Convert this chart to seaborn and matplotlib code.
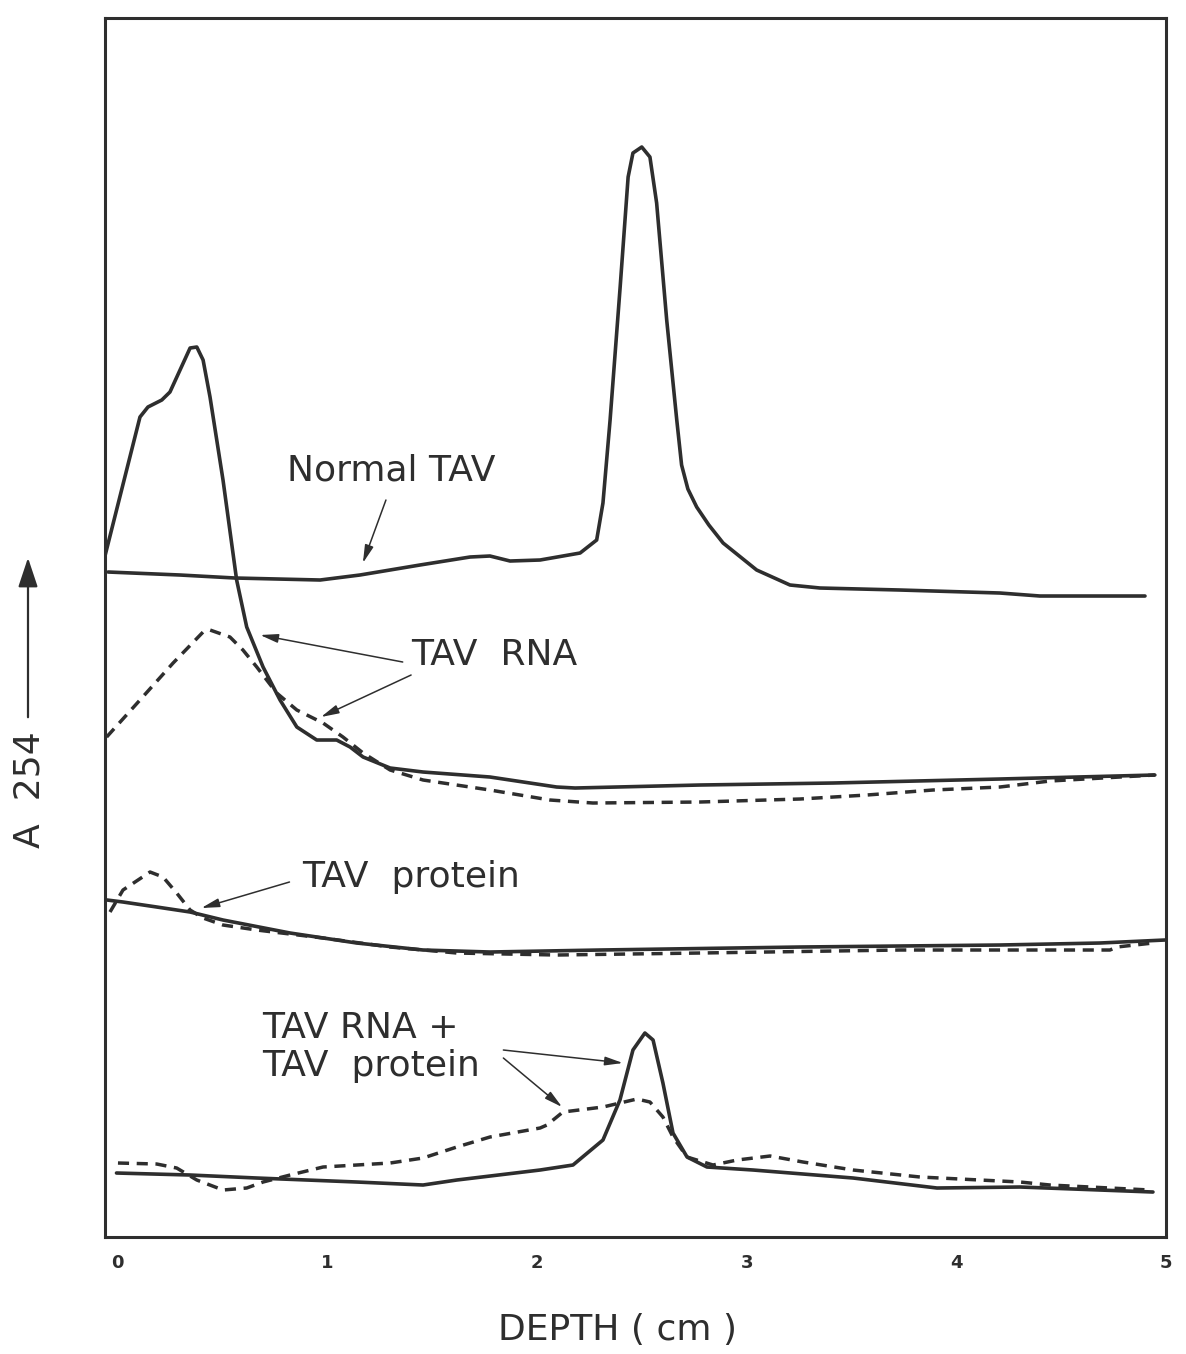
import numpy as np
import pandas as pd
import matplotlib
matplotlib.use("Agg")
import matplotlib.pyplot as plt
import seaborn as sns

# Depth (cm) and A254 (arbitrary units, traces offset vertically)
normal_depth = [-0.045, 0.298, 0.560, 0.966, 1.156, 1.442, 1.681, 1.776, 1.872, 2.015,
                2.206, 2.285, 2.315, 2.349, 2.397, 2.435, 2.458, 2.500, 2.539, 2.571,
                2.619, 2.667, 2.690, 2.720, 2.762, 2.820, 2.888, 3.048, 3.207, 3.350,
                3.731, 4.208, 4.399, 4.900]
normal_a254 = [6.65, 6.62, 6.59, 6.57, 6.62, 6.72, 6.80, 6.81, 6.76, 6.77,
               6.84, 6.97, 7.34, 8.17, 9.50, 10.60, 10.84, 10.90, 10.80, 10.34,
               9.17, 8.17, 7.72, 7.48, 7.30, 7.12, 6.94, 6.67, 6.52, 6.49,
               6.47, 6.44, 6.41, 6.41]

rna_solid_depth = [-0.06, 0.107, 0.145, 0.211, 0.250, 0.346, 0.378, 0.408, 0.441, 0.503,
                   0.568, 0.616, 0.694, 0.775, 0.855, 0.950, 1.045, 1.109, 1.171, 1.300,
                   1.457, 1.776, 2.094, 2.182, 2.778, 3.412, 4.208, 4.947]
rna_solid_a254 = [6.81, 8.20, 8.30, 8.37, 8.45, 8.89, 8.90, 8.77, 8.40, 7.57,
                  6.57, 6.10, 5.70, 5.37, 5.10, 4.97, 4.97, 4.90, 4.80, 4.69,
                  4.65, 4.60, 4.50, 4.49, 4.52, 4.54, 4.58, 4.62]

rna_dash_depth = [-0.052, 0.107, 0.265, 0.408, 0.441, 0.536, 0.598, 0.664, 0.759, 0.855,
                  0.980, 1.075, 1.171, 1.300, 1.457, 1.776, 2.062, 2.267, 2.778, 3.255,
                  3.574, 3.889, 4.208, 4.447, 4.947]
rna_dash_a254 = [5.00, 5.37, 5.74, 6.05, 6.07, 6.00, 5.87, 5.70, 5.44, 5.27,
                 5.14, 5.00, 4.84, 4.67, 4.57, 4.47, 4.37, 4.34, 4.35, 4.38,
                 4.42, 4.47, 4.50, 4.56, 4.62]

prot_solid_depth = [-0.05, 0.026, 0.187, 0.346, 0.503, 0.823, 1.141, 1.457, 1.776, 2.301,
                    3.255, 4.208, 4.685, 4.995]
prot_solid_a254 = [3.37, 3.35, 3.30, 3.25, 3.17, 3.04, 2.94, 2.87, 2.85, 2.87,
                   2.90, 2.92, 2.94, 2.97]

prot_dash_depth = [-0.036, 0.026, 0.155, 0.217, 0.282, 0.346, 0.408, 0.503, 0.664, 0.980,
                   1.300, 1.618, 2.094, 2.778, 3.731, 4.208, 4.733, 4.766, 4.938]
prot_dash_a254 = [3.25, 3.47, 3.65, 3.60, 3.44, 3.27, 3.19, 3.12, 3.07, 2.99,
                  2.90, 2.84, 2.82, 2.84, 2.87, 2.87, 2.87, 2.90, 2.94]

mix_solid_depth = [-0.005, 0.346, 0.664, 1.141, 1.457, 1.618, 2.015, 2.172, 2.315, 2.396,
                   2.458, 2.515, 2.554, 2.601, 2.649, 2.716, 2.811, 3.031, 3.508, 3.908,
                   4.304, 4.685, 4.938]
mix_solid_a254 = [0.64, 0.62, 0.59, 0.55, 0.52, 0.57, 0.67, 0.72, 0.97, 1.37,
                  1.87, 2.04, 1.97, 1.54, 1.04, 0.80, 0.70, 0.67, 0.59, 0.49,
                  0.50, 0.47, 0.45]

mix_dash_depth = [0.002, 0.187, 0.282, 0.378, 0.503, 0.616, 0.694, 0.823, 0.980, 1.300,
                  1.457, 1.618, 1.776, 2.015, 2.048, 2.124, 2.315, 2.477, 2.539, 2.601,
                  2.649, 2.716, 2.840, 2.955, 3.112, 3.269, 3.508, 3.827, 4.304, 4.447,
                  4.924]
mix_dash_a254 = [0.74, 0.73, 0.69, 0.57, 0.47, 0.49, 0.55, 0.62, 0.70, 0.74,
                 0.79, 0.90, 1.00, 1.09, 1.12, 1.25, 1.30, 1.38, 1.35, 1.20,
                 1.00, 0.80, 0.72, 0.77, 0.81, 0.75, 0.67, 0.60, 0.55, 0.52,
                 0.47]

x_ticks = [0, 1, 2, 3, 4, 5]

sns.set_theme(style="white")
plt.rcParams['font.family'] = ['DejaVu Sans']

INK = "#2e2e2e"
fig = plt.figure(figsize=(11.86, 13.54), dpi=100)
ax = fig.add_axes([0.0885, 0.0864, 0.8946, 0.9003])

traces = [
    (normal_depth, normal_a254, "-"),
    (rna_solid_depth, rna_solid_a254, "-"),
    (rna_dash_depth, rna_dash_a254, "--"),
    (prot_solid_depth, prot_solid_a254, "-"),
    (prot_dash_depth, prot_dash_a254, "--"),
    (mix_solid_depth, mix_solid_a254, "-"),
    (mix_dash_depth, mix_dash_a254, "--"),
]
for d, a, ls in traces:
    df = pd.DataFrame({"depth": d, "a254": a})
    line_kw = dict(color=INK, lw=2.6, solid_capstyle="round", solid_joinstyle="round")
    if ls == "--":
        line_kw["linestyle"] = (0, (3.2, 2.2))
        line_kw["lw"] = 2.5
    sns.lineplot(data=df, x="depth", y="a254", ax=ax, sort=False,
                 estimator=None, **line_kw)

ax.set_xlim(-0.06, 5.0)
ax.set_ylim(0, 12.19)
ax.set_xticks(x_ticks)
ax.set_xticklabels([str(t) for t in x_ticks], fontsize=13, fontweight="bold", color=INK)
ax.set_yticks([])
ax.tick_params(axis="x", direction="in", length=16, width=1.2, color=INK, pad=12)
ticks = ax.xaxis.get_major_ticks()
ticks[0].tick1line.set_visible(False)
ticks[-1].tick1line.set_visible(False)
for s in ax.spines.values():
    s.set_visible(True)
    s.set_color(INK)
    s.set_linewidth(2.2)
ax.set_xlabel("")
ax.set_ylabel("")

# Curve labels with pointer arrows
txt_kw = dict(fontsize=26, color=INK, va="center", ha="left")
arrow_kw = dict(arrowstyle="-|>,head_length=0.9,head_width=0.22", color=INK, lw=1.1,
                shrinkA=0, shrinkB=0)

ax.text(0.81, 7.67, "Normal TAV", **txt_kw)
ax.annotate("", xy=(1.17, 6.74), xytext=(1.28, 7.37), arrowprops=arrow_kw)

ax.text(1.40, 5.82, "TAV  RNA", **txt_kw)
ax.annotate("", xy=(0.68, 6.02), xytext=(1.36, 5.75), arrowprops=arrow_kw)
ax.annotate("", xy=(0.97, 5.20), xytext=(1.40, 5.62), arrowprops=arrow_kw)

ax.text(0.88, 3.60, "TAV  protein", **txt_kw)
ax.annotate("", xy=(0.40, 3.29), xytext=(0.82, 3.55), arrowprops=arrow_kw)

ax.text(0.69, 2.09, "TAV RNA +", **txt_kw)
ax.text(0.69, 1.71, "TAV  protein", **txt_kw)
ax.annotate("", xy=(2.41, 1.74), xytext=(1.84, 1.87), arrowprops=arrow_kw)
ax.annotate("", xy=(2.12, 1.30), xytext=(1.84, 1.79), arrowprops=arrow_kw)

# Axis titles
fig.text(617 / 1186, 1 - 1330 / 1354, "DEPTH ( cm )", fontsize=26, color=INK,
         ha="center", va="center")
fig.text(30 / 1186, 1 - 790 / 1354, "A  254", fontsize=26, color=INK,
         ha="center", va="center", rotation=90)
fig.add_artist(matplotlib.patches.FancyArrowPatch(
    (28 / 1186, 1 - 720 / 1354), (28 / 1186, 1 - 555 / 1354),
    transform=fig.transFigure, arrowstyle="-|>,head_length=0.9,head_width=0.3",
    color=INK, lw=1.6, mutation_scale=20))

fig.savefig("out.png", dpi=100, facecolor="white")
